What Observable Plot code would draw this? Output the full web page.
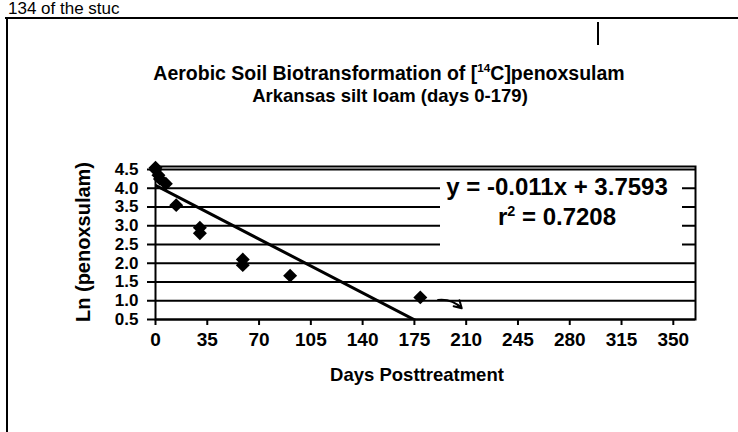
<!DOCTYPE html>
<html><head><meta charset="utf-8">
<script src="https://cdn.jsdelivr.net/npm/d3@7"></script>
<script src="https://cdn.jsdelivr.net/npm/@observablehq/plot@0.6"></script>
<style>
body{margin:0;background:#fff;}
#wrap{position:relative;width:738px;height:432px;overflow:hidden;font-family:"Liberation Sans",Arial,sans-serif;color:#000;background:#fff;}
#wrap svg{position:absolute;left:0;top:0;}
.abs{position:absolute;white-space:nowrap;}
.c{transform:translate(-50%,-50%);text-align:center;}
sup{font-size:60%;vertical-align:super;line-height:0;}
</style></head><body>
<div id="wrap"></div>
<script>
// ---- data ----
const xTicks = [0, 35, 70, 105, 140, 175, 210, 245, 280, 315, 350];
const yTicks = [0.5, 1.0, 1.5, 2.0, 2.5, 3.0, 3.5, 4.0, 4.5];
const days = [0, 0, 2, 3, 7, 14, 30, 30, 59, 59, 91, 179];
const lnValues = [4.55, 4.5, 4.35, 4.25, 4.12, 3.55, 2.95, 2.8, 2.1, 1.95, 1.67, 1.09];
const trendDays = [0, 179];
const trendValues = [4.08, 0.41];
const noteDays = [191, 207];
const noteValues = [1.02, 0.8];
const titleLines = ["Aerobic Soil Biotransformation of [<sup>14</sup>C]penoxsulam", "Arkansas silt loam (days 0-179)"];
const equationText = "y = -0.011x + 3.7593";
const rSquaredText = "r<sup>2</sup> = 0.7208";
const xLabel = "Days Posttreatment";
const yLabel = "Ln (penoxsulam)";

const points = days.map((d, i) => ({day: d, ln: lnValues[i]}));
const trend = trendDays.map((d, i) => ({day: d, ln: trendValues[i]}));
const note = [{x1: noteDays[0], y1: noteValues[0], x2: noteDays[1], y2: noteValues[1]}];

const chart = Plot.plot({
  width: 738, height: 432,
  marginLeft: 155, marginRight: 43, marginTop: 166, marginBottom: 113,
  style: {fontFamily: "'Liberation Sans', Arial, sans-serif", color: "black", background: "transparent", overflow: "visible"},
  x: {domain: [0, 365]},
  y: {domain: [0.5, 4.58]},
  marks: [
    Plot.gridY(yTicks, {stroke: "black", strokeOpacity: 1, strokeWidth: 2}),
    Plot.frame({stroke: "black", strokeWidth: 2}),
    Plot.axisX(xTicks, {tickSize: 6, tickPadding: 7, strokeWidth: 2, fontSize: 19, fontWeight: "bold", label: null, tickFormat: d => String(d)}),
    Plot.axisY(yTicks, {tickSize: 8, tickPadding: 9, strokeWidth: 2, fontSize: 17, fontWeight: "bold", label: null, tickFormat: d => d.toFixed(1)}),
    Plot.line(trend, {x: "day", y: "ln", stroke: "black", strokeWidth: 3, clip: true}),
    Plot.dot(points, {x: "day", y: "ln", symbol: "diamond2", r: 6.3, fill: "black", stroke: "none"}),
    Plot.arrow(note, {x1: "x1", y1: "y1", x2: "x2", y2: "y2", bend: 25, stroke: "black", strokeWidth: 2, headLength: 7})
  ]
});
const wrap = document.getElementById("wrap");
wrap.appendChild(chart);

function add(html, style, cls) {
  const d = document.createElement("div");
  d.className = "abs " + (cls || "");
  d.innerHTML = html;
  Object.assign(d.style, style);
  wrap.appendChild(d);
  return d;
}
// scan page frame and stray text
add("134 of the stuc", {left: "8px", top: "0px", fontSize: "17px", lineHeight: "17px"});
add("", {left: "5px", top: "17px", width: "740px", height: "2px", background: "#000"});
add("", {left: "6px", top: "17px", width: "2px", height: "420px", background: "#000"});
add("", {left: "597px", top: "22px", width: "1.5px", height: "23px", background: "#000"});
// titles
add(titleLines[0], {left: "389px", top: "73px", fontSize: "19.5px", fontWeight: "bold"}, "c");
add(titleLines[1], {left: "390px", top: "96px", fontSize: "18.5px", fontWeight: "bold"}, "c");
// axis titles
add(xLabel, {left: "417px", top: "375px", fontSize: "18.5px", fontWeight: "bold"}, "c");
add(yLabel, {left: "83px", top: "242px", fontSize: "20px", fontWeight: "bold", transform: "translate(-50%,-50%) rotate(-90deg)"});
// equation label box
add("", {left: "440px", top: "180px", width: "242px", height: "72px", background: "#fff"});
add(equationText, {left: "557px", top: "187px", fontSize: "24px", fontWeight: "bold"}, "c");
add(rSquaredText, {left: "557px", top: "217px", fontSize: "24px", fontWeight: "bold"}, "c");
</script>
</body></html>
